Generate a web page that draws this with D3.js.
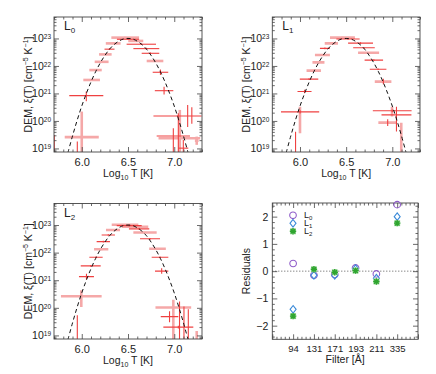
<!DOCTYPE html>
<html><head><meta charset="utf-8">
<script src="https://cdn.jsdelivr.net/npm/d3@7"></script>
<style>
body{margin:0;background:#fff}
text{font-family:"Liberation Sans",Arial,Helvetica,sans-serif;fill:#222}
</style>
</head><body>
<svg id="chart" width="436" height="374"></svg>
<script>
// ---- data ----
// model DEM curve (dashed): log10 T and log10 DEM
const curveLogT   = [5.85,5.90,5.95,6.00,6.05,6.10,6.15,6.20,6.25,6.30,6.35,6.40,6.45,6.50,6.55,6.60,6.65,6.70,6.75,6.80,6.85,6.90,6.95,7.00,7.05,7.10,7.15];
const curveLogDEM = [18.84,19.45,20.02,20.54,21.00,21.42,21.79,22.11,22.38,22.61,22.78,22.90,22.98,23.00,22.98,22.90,22.78,22.61,22.38,22.11,21.79,21.42,21.00,20.54,20.02,19.45,18.84];

// error-bar points: [logT, half width in logT, logDEM, err down, err up, kind (0 red, 1 pink)]
const barsL0 = [
  [5.703,0,18.8,0.3,0.69,0],[5.952,0,18.8,0.3,0.45,0],[6.00,0.184,19.41,0.8,0.93,1],
  [6.049,0.184,20.92,0.2,0.15,0],[6.107,0.09,21.49,0.03,0.03,1],[6.149,0.067,21.85,0.03,0.03,1],
  [6.215,0.075,22.15,0.03,0.03,1],[6.255,0.068,22.42,0.03,0.03,1],[6.30,0.054,22.61,0.03,0.03,0],
  [6.34,0.08,22.82,0.03,0.03,1],[6.47,0.15,23.03,0.03,0.03,1],[6.50,0.12,22.97,0.03,0.03,0],
  [6.584,0.081,22.91,0.03,0.03,1],[6.644,0.159,22.79,0.03,0.03,0],[6.698,0.14,22.63,0.03,0.03,0],
  [6.743,0.095,22.46,0.03,0.03,0],[6.792,0.09,22.18,0.04,0.04,1],[6.851,0.084,21.77,0.1,0.1,0],
  [6.89,0.1,21.10,0.14,0.14,0],
  [7.035,0.26,20.18,0.02,0.02,0],[7.145,0,20.18,0.4,0.4,0],[7.19,0,20.2,0.3,0.3,0],
  [7.06,0,19.6,0.7,0.8,1],[6.99,0.18,19.45,0.7,0.28,0],[7.055,0.225,19.37,0.6,0.05,1],
  [7.044,0,19.4,0.6,0.88,0],[7.098,0.054,19.01,0.3,0.3,0],[7.243,0.02,19.28,0.15,0.15,1]
];
const barsL1 = [
  [5.952,0,18.9,0.3,0.71,0],[6.001,0.207,20.33,0.06,0.06,0],[6.0,0,20.07,0.52,0.45,1],
  [6.049,0.076,21.07,0.06,0.06,0],[6.098,0.1,21.52,0.03,0.03,0],[6.149,0.078,21.83,0.03,0.03,1],
  [6.20,0.065,22.13,0.03,0.03,1],[6.243,0.081,22.40,0.03,0.03,1],[6.27,0.054,22.64,0.03,0.03,0],
  [6.34,0.072,22.82,0.03,0.03,1],[6.46,0.135,23.03,0.03,0.03,1],[6.52,0.126,22.98,0.03,0.03,0],
  [6.656,0.135,22.83,0.03,0.03,0],[6.693,0.117,22.66,0.03,0.03,0],[6.743,0.114,22.48,0.03,0.03,1],
  [6.80,0.10,22.21,0.03,0.03,0],[6.846,0.09,21.88,0.03,0.03,0],[6.90,0.09,21.43,0.03,0.03,1],
  [6.903,0,21.43,0.1,0.1,0],
  [6.999,0.21,20.37,0.05,0.05,0],[7.045,0.162,20.22,0.6,0.3,0],[6.997,0,20.34,0.18,0.18,1],
  [6.949,0.1,19.94,0.03,0.03,1],[6.95,0,19.94,0.12,0.12,0],[7.097,0,19.0,0.5,0.93,1]
];
const barsL2 = [
  [5.952,0,18.8,0.3,0.93,0],[5.995,0.22,20.42,0.39,0.22,1],[6.051,0.081,21.13,0.1,0.1,0],
  [6.097,0.108,21.52,0.03,0.03,0],[6.154,0.072,21.83,0.03,0.03,0],[6.21,0.077,22.12,0.03,0.03,1],
  [6.233,0.072,22.40,0.03,0.03,0],[6.287,0.072,22.64,0.03,0.03,0],[6.338,0.076,22.82,0.03,0.03,1],
  [6.468,0.144,23.01,0.03,0.03,1],[6.513,0.135,22.98,0.03,0.03,0],[6.575,0.144,22.94,0.03,0.03,1],
  [6.62,0.11,22.86,0.03,0.03,0],[6.684,0.126,22.73,0.03,0.03,1],[6.738,0.108,22.50,0.03,0.03,0],
  [6.819,0.09,22.14,0.03,0.03,1],[6.846,0.09,21.83,0.03,0.03,0],[6.864,0.072,21.33,0.1,0.1,0],
  [6.99,0.193,20.01,1.2,0.28,1],[6.949,0.095,19.68,0.2,0.2,0],[7.044,0.162,19.30,0.05,0.05,0],
  [7.057,0,19.30,1.0,0.93,0],[7.105,0,19.0,0.5,1.05,0],[7.152,0,19.0,0.5,0.95,0],
  [7.243,0,18.8,0.3,0.36,1]
];
const panelSubs = ["0","1","2"];
const xTicksDEM = [6.0,6.5,7.0];
const yTicksDEM = [19,20,21,22,23];

const filters = ["94","131","171","193","211","335"];
const resL0 = [0.28,-0.15,-0.12,0.12,-0.10,2.44];
const resL1 = [-1.40,-0.15,-0.15,0.09,-0.26,2.00];
const resL2 = [-1.65,0.07,-0.04,0.02,-0.38,1.76];
const yTicksRes = [-2,-1,0,1,2];

// ---- drawing ----
const svg = d3.select("#chart");
const RED = "#ef4040", PINK = "#f5a8a8", AX = "#444";

function frame(g, box) {
  g.append("rect").attr("x", box.x0).attr("y", box.y0)
    .attr("width", box.x1 - box.x0).attr("height", box.y1 - box.y0)
    .attr("fill", "none").attr("stroke", AX).attr("stroke-width", 0.9);
}
function ticks(g, axisFn, scale, vals, size, pos, fmt, pad, fs) {
  const a = axisFn(scale).tickValues(vals).tickSizeInner(-size).tickSizeOuter(0)
    .tickPadding(pad || 4).tickFormat(fmt || "");
  const s = g.append("g").attr("transform", pos).call(a);
  s.select(".domain").remove();
  s.selectAll(".tick line").attr("stroke", AX).attr("stroke-width", 0.8);
  s.selectAll(".tick text").attr("fill", "#222").style("font-size", (fs || 11) + "px")
    .style("font-family", '"Liberation Sans",Arial,sans-serif');
  return s;
}
function subText(sel, main, sub, size, subSize) {
  sel.style("font-size", size + "px");
  sel.append("tspan").text(main);
  sel.append("tspan").attr("dy", size * 0.28).style("font-size", subSize + "px").text(sub);
}

const demBoxes = [
  {x0:54, x1:202, y0:17, y1:152},
  {x0:272.3, x1:420, y0:17, y1:152},
  {x0:54, x1:202, y0:203.5, y1:339}
];
const demBars = [barsL0, barsL1, barsL2];

demBoxes.forEach((box, pi) => {
  const g = svg.append("g");
  const x = d3.scaleLinear().domain([5.7, 7.3]).range([box.x0, box.x1]);
  const y = d3.scaleLog().domain([Math.pow(10,18.87), Math.pow(10,23.78)]).range([box.y1, box.y0]);
  const cid = "clip" + pi;
  svg.append("clipPath").attr("id", cid).append("rect")
    .attr("x", box.x0).attr("y", box.y0).attr("width", box.x1 - box.x0).attr("height", box.y1 - box.y0);

  const plot = g.append("g").attr("clip-path", `url(#${cid})`);
  const bars = demBars[pi];
  [1, 0].forEach(kind => {
    const bs = bars.filter(b => b[5] === kind);
    const col = kind ? PINK : RED, w = kind ? 2.6 : 1.1;
    plot.selectAll(null).data(bs.filter(b => b[1] > 0)).join("line")
      .attr("x1", b => x(b[0] - b[1])).attr("x2", b => x(b[0] + b[1]))
      .attr("y1", b => y(Math.pow(10, b[2]))).attr("y2", b => y(Math.pow(10, b[2])))
      .attr("stroke", col).attr("stroke-width", w);
    plot.selectAll(null).data(bs).join("line")
      .attr("x1", b => x(b[0])).attr("x2", b => x(b[0]))
      .attr("y1", b => y(Math.pow(10, b[2] - b[3]))).attr("y2", b => y(Math.pow(10, b[2] + b[4])))
      .attr("stroke", col).attr("stroke-width", w);
  });
  const pts = curveLogT.map((t, i) => [t, curveLogDEM[i]]);
  plot.append("path").datum(pts)
    .attr("d", d3.line().x(d => x(d[0])).y(d => y(Math.pow(10, d[1]))).curve(d3.curveCatmullRom))
    .attr("fill", "none").attr("stroke", "#111").attr("stroke-width", 1).attr("stroke-dasharray", "4,3");

  frame(g, box);
  const xMinor = d3.range(5.7, 7.31, 0.1).map(v => +v.toFixed(2)).filter(v => !xTicksDEM.includes(v));
  const yMinor = [];
  for (let e = 18; e <= 23; e++) for (let m = 2; m <= 9; m++) yMinor.push(m * Math.pow(10, e));
  const yMin = yMinor.filter(v => v > y.domain()[0] && v < y.domain()[1]);
  const yMaj = yTicksDEM.map(e => Math.pow(10, e));

  ticks(g, d3.axisBottom, x, xTicksDEM, 5, `translate(0,${box.y1})`, d3.format(".1f"), 6);
  ticks(g, d3.axisBottom, x, xMinor, 2.5, `translate(0,${box.y1})`);
  ticks(g, d3.axisTop, x, xTicksDEM, 5, `translate(0,${box.y0})`);
  ticks(g, d3.axisTop, x, xMinor, 2.5, `translate(0,${box.y0})`);
  const la = ticks(g, d3.axisLeft, y, yMaj, 5, `translate(${box.x0},0)`, d => "x", 3);
  la.selectAll(".tick text").each(function(d) {
    const t = d3.select(this); t.text(null);
    t.append("tspan").text("10").style("font-size", "10.5px");
    t.append("tspan").attr("dy", "-0.5em").style("font-size", "6.5px").text(Math.round(Math.log10(d)));
  });
  ticks(g, d3.axisLeft, y, yMin, 2.5, `translate(${box.x0},0)`);
  ticks(g, d3.axisRight, y, yMaj, 5, `translate(${box.x1},0)`);
  ticks(g, d3.axisRight, y, yMin, 2.5, `translate(${box.x1},0)`);

  // panel label
  subText(g.append("text").attr("x", box.x0 + 10).attr("y", box.y0 + 13), "L", panelSubs[pi], 12, 8);

  // x title
  const xt = g.append("text").attr("x", (box.x0 + box.x1) / 2).attr("y", box.y1 + 25)
    .attr("text-anchor", "middle").style("font-size", "10.5px");
  xt.append("tspan").text("Log");
  xt.append("tspan").attr("dy", 3).style("font-size", "7px").text("10");
  xt.append("tspan").attr("dy", -3).text(" T [K]");

  // y title
  const yt = g.append("text")
    .attr("transform", `translate(${box.x0 - 22.5},${(box.y0 + box.y1) / 2}) rotate(-90)`)
    .attr("text-anchor", "middle").style("font-size", "10.5px");
  yt.append("tspan").text("DEM, \u03BE(T) [cm");
  yt.append("tspan").attr("dy", -4).style("font-size", "7px").text("\u22125");
  yt.append("tspan").attr("dy", 4).text(" K");
  yt.append("tspan").attr("dy", -4).style("font-size", "7px").text("\u22121");
  yt.append("tspan").attr("dy", 4).text("]");
});

// ---- residuals panel ----
(function() {
  const box = {x0:272.3, x1:418, y0:203, y1:339.3};
  const g = svg.append("g");
  const x = d3.scaleLinear().domain([-1, 6]).range([box.x0, box.x1]);
  const y = d3.scaleLinear().domain([-2.5, 2.5]).range([box.y1, box.y0]);

  g.append("line").attr("x1", box.x0).attr("x2", box.x1).attr("y1", y(0)).attr("y2", y(0))
    .attr("stroke", "#555").attr("stroke-width", 1).attr("stroke-dasharray", "1,2");

  frame(g, box);
  const xMaj = d3.range(-1, 7);
  const xMin = d3.range(-1, 6.01, 0.2).map(v => +v.toFixed(2)).filter(v => !Number.isInteger(v));
  const yMin = d3.range(-2.4, 2.41, 0.2).map(v => +v.toFixed(2)).filter(v => !Number.isInteger(v));
  ticks(g, d3.axisBottom, x, xMaj, 5, `translate(0,${box.y1})`, i => filters[i] || "", 6, 9.5);
  ticks(g, d3.axisBottom, x, xMin, 2.5, `translate(0,${box.y1})`);
  ticks(g, d3.axisTop, x, xMaj, 5, `translate(0,${box.y0})`);
  ticks(g, d3.axisTop, x, xMin, 2.5, `translate(0,${box.y0})`);
  ticks(g, d3.axisLeft, y, yTicksRes, 5, `translate(${box.x0},0)`, d => d < 0 ? "\u2212" + (-d) : String(d), 4, 10.5);
  ticks(g, d3.axisLeft, y, yMin, 2.5, `translate(${box.x0},0)`);
  ticks(g, d3.axisRight, y, yTicksRes, 5, `translate(${box.x1},0)`);
  ticks(g, d3.axisRight, y, yMin, 2.5, `translate(${box.x1},0)`);

  const PUR = "#8f5cc9", BLU = "#3a8ad8", GRN = "#2fa52f";
  const diamond = "M0,-3.8L3,0L0,3.8L-3,0Z";
  const star = "M-3.2,0H3.2M0,-3.2V3.2M-2.3,-2.3L2.3,2.3M-2.3,2.3L2.3,-2.3";
  function mk(sel, kind) {
    if (kind === 0) sel.append("circle").attr("r", 3.3).attr("fill", "none").attr("stroke", PUR).attr("stroke-width", 1.1);
    if (kind === 1) sel.append("path").attr("d", diamond).attr("fill", "none").attr("stroke", BLU).attr("stroke-width", 1.1);
    if (kind === 2) {
      sel.append("rect").attr("x", -3).attr("y", -3).attr("width", 6).attr("height", 6).attr("fill", "#a9dca9");
      sel.append("path").attr("d", star).attr("stroke", GRN).attr("stroke-width", 1.4);
    }
  }
  [resL0, resL1, resL2].forEach((arr, k) => {
    g.selectAll(null).data(arr).join("g")
      .attr("transform", (v, i) => `translate(${x(i)},${y(v)})`)
      .each(function() { mk(d3.select(this), k); });
  });
  // legend
  [0, 1, 2].forEach(k => {
    const ly = 215.3 + k * 8;
    mk(g.append("g").attr("transform", `translate(293,${ly})`), k);
    subText(g.append("text").attr("x", 304).attr("y", ly + 2.5), "L", panelSubs[k], 9, 6);
  });

  g.append("text").attr("x", (box.x0 + box.x1) / 2).attr("y", box.y1 + 23.5)
    .attr("text-anchor", "middle").style("font-size", "10.5px").text("Filter [\u00C5]");
  g.append("text").attr("transform", `translate(${box.x0 - 22},${(box.y0 + box.y1) / 2}) rotate(-90)`)
    .attr("text-anchor", "middle").style("font-size", "10.5px").text("Residuals");
})();
</script>
</body></html>
